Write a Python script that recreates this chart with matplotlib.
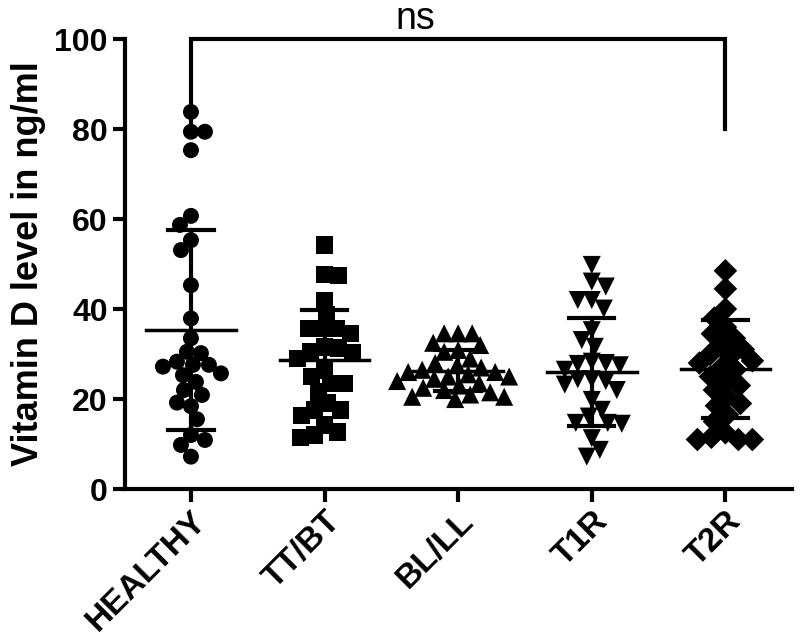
import numpy as np
import matplotlib
matplotlib.use("Agg")
import matplotlib.pyplot as plt

plt.rcParams['font.family'] = ['Liberation Sans', 'DejaVu Sans']

# group names
groups = ["HEALTHY", "TT/BT", "BL/LL", "T1R", "T2R"]

# values (ng/ml)
healthy = [83.8, 79.4, 79.4, 75.3, 60.7, 58.7, 55.3, 53.1, 45.3, 37.9, 33.5, 30.5,
           30.2, 28.3, 27.6, 27.6, 27.2, 25.7, 25.3, 23.8, 22.0, 20.9, 19.2, 18.4,
           15.5, 12.0, 10.9, 9.8, 7.2]
tt_bt = [54.2, 47.7, 47.4, 41.8, 38.7, 35.7, 35.7, 35.7, 34.6, 31.6, 31.3, 30.5,
         30.2, 29.0, 26.4, 25.0, 23.5, 23.5, 21.6, 19.1, 17.6, 17.6, 16.4, 14.2,
         12.7, 12.0, 11.5]
bl_ll = [34.6, 34.6, 34.6, 32.5, 32.0, 30.9, 30.5, 29.0, 28.0, 27.5, 27.0, 26.5,
         26.0, 26.0, 25.5, 25.0, 25.0, 24.5, 24.0, 23.5, 23.0, 22.5, 22.0, 21.5,
         21.0, 20.5, 20.5, 20.0]
t1r = [49.8, 46.1, 45.0, 42.0, 42.0, 40.1, 35.3, 33.1, 31.6, 28.3, 28.0, 27.8,
       27.5, 26.5, 24.4, 24.4, 24.0, 23.2, 22.0, 19.8, 17.6, 16.1, 14.7, 14.7,
       14.5, 11.3, 8.7, 7.2]
t2r = [48.5, 44.5, 40.0, 38.0, 36.0, 34.5, 33.5, 32.0, 31.0, 30.0, 29.5, 28.5,
       28.0, 27.0, 26.5, 25.0, 24.0, 23.0, 22.0, 20.5, 19.0, 18.5, 16.5, 15.0,
       12.5, 11.5, 11.0, 11.0, 11.0]

# mean and SD as drawn
means = [35.4, 28.7, 26.3, 25.9, 26.7]
sds = [22.2, 11.0, 4.6, 12.0, 10.9]

all_data = [healthy, tt_bt, bl_ll, t1r, t2r]
markers = ['o', 's', '^', 'v', 'D']
msizes = [11.5, 12.5, 13, 13, 12]

fig = plt.figure(figsize=(8, 6.4), dpi=100)
ax = fig.add_axes([0.15625, 0.2359, 0.834, 0.7031])
ax.set_xlim(-0.4935, 4.5)
ax.set_ylim(0, 100)


# simple beeswarm in pixel space
def swarm(vals, xc, min_dist):
    placed = []
    order = np.argsort(vals)[::-1]
    res = np.zeros(len(vals))
    for n, i in enumerate(order):
        px, py = ax.transData.transform((xc, vals[i]))
        sign = 1 if n % 2 == 0 else -1
        step = 0
        while True:
            for off in ([0] if step == 0 else [sign * step, -sign * step]):
                ok = True
                for qx, qy in placed:
                    if np.hypot(px + off - qx, py - qy) < min_dist:
                        ok = False
                        break
                if ok:
                    break
            if ok:
                break
            step += 1
        placed.append((px + off, py))
        res[i] = ax.transData.inverted().transform((px + off, py))[0]
    return res


for i, vals in enumerate(all_data):
    xs = swarm(vals, i, 14)
    ax.scatter(xs, vals, marker=markers[i], s=msizes[i] ** 2, c='black',
               edgecolors='none', zorder=3, clip_on=False)
    # mean line
    ax.plot([i - 0.335, i + 0.335], [means[i], means[i]], color='black', lw=2.5, zorder=4)
    # SD bar
    ax.plot([i, i], [means[i] - sds[i], means[i] + sds[i]], color='black', lw=3, zorder=4)
    for yy in [means[i] - sds[i], means[i] + sds[i]]:
        ax.plot([i - 0.17, i + 0.17], [yy, yy], color='black', lw=3, zorder=4)

# significance bracket
ax.plot([0, 0, 4, 4], [80.5, 100, 100, 80], color='black', lw=3,
        clip_on=False, solid_joinstyle='miter', zorder=5)
ax.text(1.68, 104.4, 'ns', ha='center', va='center', fontsize=27)

for side in ['top', 'right']:
    ax.spines[side].set_visible(False)
for side in ['left', 'bottom']:
    ax.spines[side].set_linewidth(3)

ax.set_yticks([0, 20, 40, 60, 80, 100])
ax.set_xticks(range(len(groups)))
ax.set_xticklabels(groups, rotation=45, ha='right', rotation_mode='anchor',
                   fontsize=24, fontweight='bold')
ax.tick_params(axis='y', labelsize=23, width=3, length=9, direction='out')
ax.tick_params(axis='x', width=3, length=9, direction='out', pad=3)
for lab in ax.get_yticklabels():
    lab.set_fontweight('bold')
ax.set_ylabel('Vitamin D level in ng/ml', fontsize=26, fontweight='bold', labelpad=6)

fig.savefig('out.png', dpi=100)
